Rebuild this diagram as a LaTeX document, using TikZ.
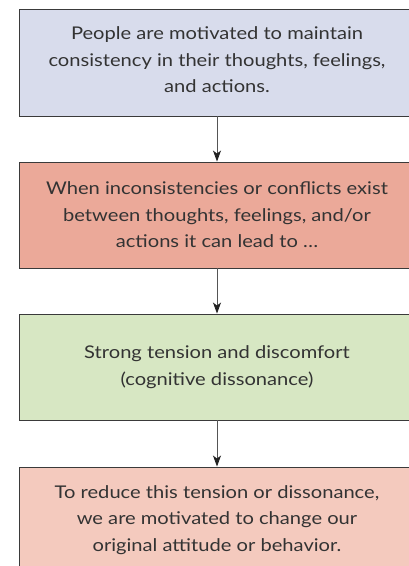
\documentclass[tikz,border=0pt]{standalone}
\usepackage{fontspec}
\setmainfont{Lato}[FakeStretch=1.15]
\usetikzlibrary{arrows.meta}
\definecolor{bluebox}{HTML}{D8DCEC}
\definecolor{redbox}{HTML}{EBA999}
\definecolor{greenbox}{HTML}{D7E7C3}
\definecolor{pinkbox}{HTML}{F4CABE}
\definecolor{edge}{HTML}{3A3A3A}
\definecolor{txt}{HTML}{333333}
\definecolor{arrowc}{HTML}{555555}
\definecolor{tipc}{HTML}{222222}
\tikzset{
  flowbox/.style={draw=edge, line width=0.9pt, minimum width=396pt, minimum height=106pt,
    inner sep=0pt, align=center, text=txt, font=\fontsize{17.5}{26.5}\selectfont},
  flowarrow/.style={draw=arrowc, line width=0.9pt, -{Stealth[length=11pt,width=8pt,inset=3pt,color=tipc,fill=tipc]}}
}
\begin{document}
\begin{tikzpicture}[x=1pt,y=1pt]
\useasboundingbox (0,0) rectangle (409,-566);
\begin{scope}
\clip (0,0) rectangle (409,-566);
\node[flowbox, fill=bluebox, minimum height=107pt] (b1) at (217,-62.5) {People are motivated to maintain\\consistency in their thoughts, feelings,\\and actions.\\[-21pt]};
\node[flowbox, fill=redbox] (b2) at (217,-215) {When inconsistencies or conflicts exist\\between thoughts, feelings, and/or\\actions it can lead to \dots};
\node[flowbox, fill=greenbox] (b3) at (217,-367) {Strong tension and discomfort\\(cognitive dissonance)};
\node[flowbox, fill=pinkbox] (b4) at (217,-520) {To reduce this tension or dissonance,\\we are motivated to change our\\original attitude or behavior.};
\end{scope}
\draw[flowarrow] (b1.south) -- (b2.north);
\draw[flowarrow] (b2.south) -- (b3.north);
\draw[flowarrow] (b3.south) -- (b4.north);
\end{tikzpicture}
\end{document}
